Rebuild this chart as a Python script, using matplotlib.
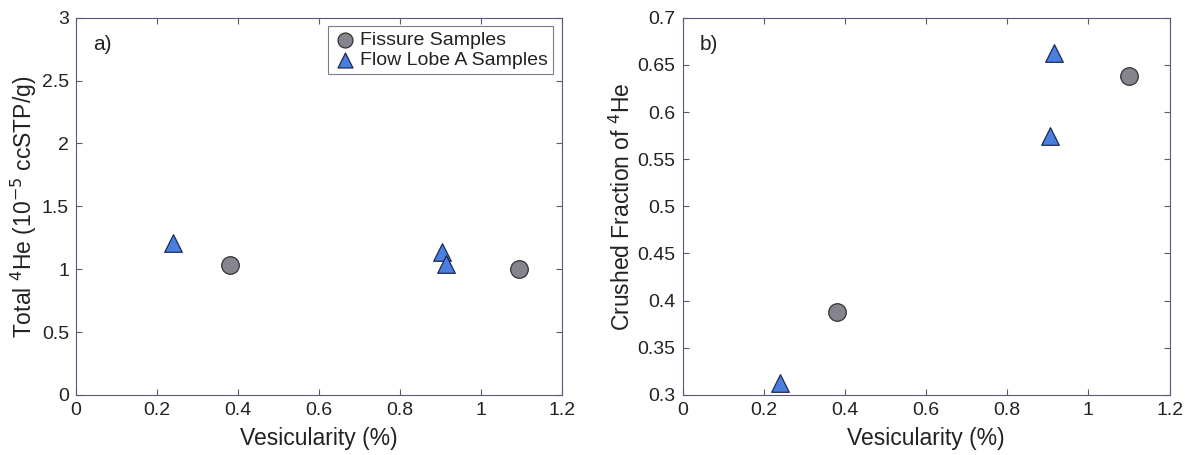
import matplotlib
matplotlib.use("Agg")
import matplotlib.pyplot as plt

plt.rcParams['font.family'] = ['Liberation Sans', 'DejaVu Sans']
plt.rcParams['font.size'] = 14
plt.rcParams['text.color'] = "#222222"
plt.rcParams['axes.labelcolor'] = "#222222"
plt.rcParams['xtick.labelcolor'] = "#222222"
plt.rcParams['ytick.labelcolor'] = "#222222"

# panel a) total 4He vs vesicularity
fis_ves_a = [0.38, 1.095]
fis_he_a = [1.03, 1.00]
lobe_ves_a = [0.24, 0.905, 0.915]
lobe_he_a = [1.21, 1.14, 1.04]

# panel b) crushed fraction vs vesicularity
fis_ves_b = [0.38, 1.10]
fis_frac_b = [0.388, 0.638]
lobe_ves_b = [0.24, 0.905, 0.915]
lobe_frac_b = [0.313, 0.575, 0.663]

CIRCLE = dict(marker="o", s=160, facecolor="#85858f", edgecolor="#333333", linewidth=0.9)
TRI = dict(marker="^", s=160, facecolor="#4a7fdf", edgecolor="#1a2a55", linewidth=0.9)
EDGE = "#5a5a78"

fig = plt.figure(figsize=(11.85, 4.55), dpi=100)
ax1 = fig.add_axes([0.064, 0.132, 0.41, 0.829])
ax2 = fig.add_axes([0.576, 0.132, 0.411, 0.829])

for ax in (ax1, ax2):
    ax.tick_params(direction="in", top=True, right=True, length=4, labelsize=14,
                   color=EDGE, pad=5)
    for sp in ax.spines.values():
        sp.set_color(EDGE)
        sp.set_linewidth(0.8)
    ax.set_xlim(0, 1.2)
    ax.set_xticks([0, 0.2, 0.4, 0.6, 0.8, 1.0, 1.2])
    ax.set_xticklabels(["0", "0.2", "0.4", "0.6", "0.8", "1", "1.2"])
    ax.set_xlabel("Vesicularity (%)", fontsize=16.5, labelpad=6)

ax1.scatter(fis_ves_a, fis_he_a, label="Fissure Samples", zorder=3, **CIRCLE)
ax1.scatter(lobe_ves_a, lobe_he_a, label="Flow Lobe A Samples", zorder=3, **TRI)
ax1.set_ylim(0, 3)
ax1.set_yticks([0, 0.5, 1, 1.5, 2, 2.5, 3])
ax1.set_yticklabels(["0", "0.5", "1", "1.5", "2", "2.5", "3"])
ax1.set_ylabel(r"Total $^{4}$He (10$^{-5}$ ccSTP/g)", fontsize=16.5, labelpad=2)
ax1.text(0.035, 0.93, "a)", transform=ax1.transAxes, fontsize=15, va="center")
leg = ax1.legend(loc="upper right", fontsize=14, fancybox=False, edgecolor=EDGE,
                 handletextpad=0.2, borderpad=0.25, labelspacing=0.15,
                 handlelength=1.2, borderaxespad=0.45, scatterpoints=1,
                 markerscale=0.85)
leg.get_frame().set_linewidth(0.8)

ax2.scatter(fis_ves_b, fis_frac_b, zorder=3, **CIRCLE)
ax2.scatter(lobe_ves_b, lobe_frac_b, zorder=3, **TRI)
ax2.set_ylim(0.3, 0.7)
ax2.set_yticks([0.3, 0.35, 0.4, 0.45, 0.5, 0.55, 0.6, 0.65, 0.7])
ax2.set_yticklabels(["0.3", "0.35", "0.4", "0.45", "0.5", "0.55", "0.6", "0.65", "0.7"])
ax2.set_ylabel(r"Crushed Fraction of $^{4}$He", fontsize=16.5, labelpad=2)
ax2.text(0.035, 0.93, "b)", transform=ax2.transAxes, fontsize=15, va="center")

fig.savefig("out.png", dpi=100)
